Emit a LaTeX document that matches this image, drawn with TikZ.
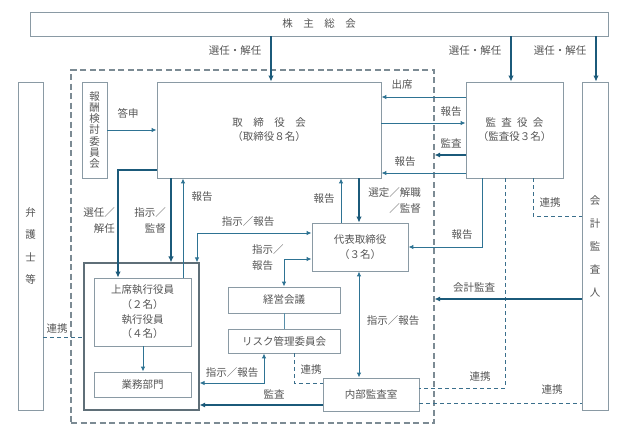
\documentclass[tikz,border=0pt]{standalone}
\usepackage{fontspec}
\setmainfont{Noto Sans CJK JP}
\usetikzlibrary{arrows.meta}
\definecolor{boxc}{HTML}{8A9AA4}
\definecolor{execc}{HTML}{5F6F78}
\definecolor{linec}{HTML}{2E7393}
\definecolor{thickc}{HTML}{1B5A7A}
\definecolor{dashc}{HTML}{3A6F8C}
\definecolor{txtc}{HTML}{555555}
\begin{document}
\begin{tikzpicture}[x=1pt,y=-1pt,
  box/.style={draw=boxc, line width=0.8pt, fill=white, text=txtc, inner sep=0pt, font=\fontsize{10.5}{12.5}\selectfont, align=center},
  lbl/.style={text=txtc, font=\fontsize{10.5}{12}\selectfont, inner sep=0pt},
  thinarr/.style={draw=linec, line width=1pt, -{Latex[length=5pt,width=4.5pt]}},
  dblarr/.style={draw=linec, line width=1pt, {Latex[length=5pt,width=4.5pt]}-{Latex[length=5pt,width=4.5pt]}},
  thkarr/.style={draw=thickc, line width=2pt, -{Latex[length=6pt,width=5.5pt]}},
  medarr/.style={draw=thickc, line width=1.4pt, -{Latex[length=5.5pt,width=5pt]}},
  lnk/.style={draw=dashc, line width=1pt, dash pattern=on 4pt off 3pt},
  plain/.style={draw=linec!80, line width=1pt}
]
\useasboundingbox (0,0) rectangle (624,429);
% dashed board region
\node[draw=boxc!90!black, line width=1.1pt, dash pattern=on 6pt off 3.5pt, minimum width=363pt, minimum height=353pt, inner sep=0pt] (board) at (252.5,246.5) {};
% boxes
\node[box, minimum width=578pt, minimum height=24pt] (kabu) at (319,24) {株\hspace{1em}主\hspace{1em}総\hspace{1em}会};
\node[box, minimum width=25pt, minimum height=328pt, font=\fontsize{10.5}{22.5}\selectfont] (ben) at (30.5,246) {弁\\護\\士\\等};
\node[box, minimum width=25pt, minimum height=96pt, font=\fontsize{10.5}{11.3}\selectfont] (hoshu) at (94.5,130) {報\\酬\\検\\討\\委\\員\\会};
\node[box, minimum width=224pt, minimum height=96pt, font=\fontsize{10.5}{14}\selectfont] (tori) at (269,130) {取\hspace{1em}締\hspace{1em}役\hspace{1em}会\\（取締役８名）};
\node[box, minimum width=97pt, minimum height=96pt, font=\fontsize{10.5}{14}\selectfont] (kansa) at (514.5,130) {監\hspace{0.5em}査\hspace{0.5em}役\hspace{0.5em}会\\（監査役３名）};
\node[box, minimum width=26pt, minimum height=328pt, font=\fontsize{10.5}{23}\selectfont] (kaikei) at (595,246) {会\\計\\監\\査\\人};
\node[box, minimum width=96pt, minimum height=48pt, font=\fontsize{10.5}{15}\selectfont] (daihyo) at (360,247) {代表取締役\\（３名）};
\node[box, draw=execc, line width=1.1pt, minimum width=115pt, minimum height=147pt] (exec) at (141.5,336.5) {};
\node[box, minimum width=97pt, minimum height=68pt, font=\fontsize{10.5}{14.7}\selectfont] (joseki) at (142.5,312) {上席執行役員\\（２名）\\執行役員\\（４名）};
\node[box, minimum width=97pt, minimum height=25pt] (gyomu) at (142.5,384.5) {業務部門};
\node[box, minimum width=112pt, minimum height=26pt] (keiei) at (284,300) {経営会議};
\node[box, minimum width=112pt, minimum height=24pt] (risk) at (284,341) {リスク管理委員会};
\node[box, minimum width=96pt, minimum height=33pt] (naibu) at (371,394.5) {内部監査室};
% helper coordinates
\coordinate (xa) at (271,0);
\coordinate (xb) at (511,0);
\coordinate (xc) at (596,0);
\coordinate (ya) at (0,97);
\coordinate (yb) at (0,123);
\coordinate (yc) at (0,155);
\coordinate (yd) at (0,173);
\coordinate (xd) at (482,0);
\coordinate (xe) at (505,0);
\coordinate (xf) at (533,0);
\coordinate (ye) at (0,216);
\coordinate (yf) at (0,299);
\coordinate (yg) at (0,388);
\coordinate (yh) at (0,403);
\coordinate (xg) at (341,0);
\coordinate (xh) at (359,0);
\coordinate (yi) at (0,233);
\coordinate (xi) at (197,0);
\coordinate (yj) at (0,259);
\coordinate (yk) at (0,383);
\coordinate (xj) at (264,0);
\coordinate (xk) at (294,0);
\coordinate (yl) at (0,405);
\coordinate (ym) at (0,170);
\coordinate (xl) at (118,0);
\coordinate (xm) at (171,0);
\coordinate (xn) at (183,0);
\coordinate (xo) at (143,0);
\coordinate (yn) at (0,337);
% top arrows
\draw[thkarr] (kabu.south -| xa) -- (tori.north -| xa);
\draw[thkarr] (kabu.south -| xb) -- (kansa.north -| xb);
\draw[thkarr] (kabu.south -| xc) -- (kaikei.north -| xc);
\node[lbl] (l1) at (235,51) {選任・解任};
\node[lbl] (l2) at (475,51) {選任・解任};
\node[lbl] (l3) at (560,51) {選任・解任};
% housyu
\draw[thinarr] (hoshu.east) -- (tori.west);
\node[lbl] (l4) at (128,113) {答申};
% between tori and kansa
\draw[thinarr] (kansa.west |- ya) -- (tori.east |- ya);
\node[lbl] (l5) at (402,85) {出席};
\draw[thinarr] (tori.east |- yb) -- (kansa.west |- yb);
\node[lbl] (l6) at (451,112) {報告};
\draw[medarr] (kansa.west |- yc) -- (board.east |- yc);
\node[lbl] (l7) at (451,143) {監査};
\draw[thinarr] (kansa.west |- yd) -- (tori.east |- yd);
\node[lbl] (l8) at (405,162) {報告};
% from kansa down
\draw[thinarr] (kansa.south -| xd) -- (xd |- daihyo.east) -- (daihyo.east);
\node[lbl] (l9) at (462,235) {報告};
\draw[lnk] (kansa.south -| xe) -- (xe |- yg) -- (naibu.east |- yg);
\node[lbl] (l10) at (480,377) {連携};
\draw[lnk] (kansa.south -| xf) -- (xf |- ye) -- (kaikei.west |- ye);
\node[lbl] (l11) at (550,203) {連携};
\draw[medarr] (kaikei.west |- yf) -- (board.east |- yf);
\node[lbl] (l12) at (474,288) {会計監査};
\draw[lnk] (naibu.east |- yh) -- (kaikei.west |- yh);
\node[lbl] (l13) at (552,390) {連携};
% tori <-> daihyo
\draw[thinarr] (daihyo.north -| xg) -- (tori.south -| xg);
\node[lbl] (l14) at (324,199) {報告};
\draw[thkarr] (tori.south -| xh) -- (daihyo.north -| xh);
\node[lbl, anchor=east] (l15) at (421,193) {選定／解職};
\node[lbl, anchor=east] (l16) at (421,209) {／監督};
% daihyo left
\draw[dblarr] (daihyo.west |- yi) -- (xi |- yi) -- (exec.north -| xi);
\node[lbl] (l17) at (248,222) {指示／報告};
\draw[dblarr] (daihyo.west |- yj) -- (keiei.north |- yj) -- (keiei.north);
\node[lbl, anchor=west] (l18) at (252,250) {指示／};
\node[lbl, anchor=west] (l19) at (252,266) {報告};
\draw[plain] (keiei.south) -- (risk.north);
\draw[dblarr] (risk.south -| xj) -- (xj |- yk) -- (exec.east |- yk);
\node[lbl] (l20) at (232,373) {指示／報告};
\draw[lnk] (risk.south -| xk) -- (xk |- yk) -- (naibu.west |- yk);
\node[lbl] (l21) at (311,370) {連携};
\draw[medarr] (naibu.west |- yl) -- (exec.east |- yl);
\node[lbl] (l22) at (274,394) {監査};
\draw[dblarr] (daihyo.south -| xh) -- (naibu.north -| xh);
\node[lbl] (l23) at (393,321) {指示／報告};
% tori -> exec
\draw[thkarr] (tori.west |- ym) -- (xl |- ym) -- (joseki.north -| xl);
\node[lbl, anchor=east] (l24) at (115,213) {選任／};
\node[lbl, anchor=east] (l25) at (115,229) {解任};
\draw[thkarr] (tori.south -| xm) -- (exec.north -| xm);
\node[lbl, anchor=east] (l26) at (166,213) {指示／};
\node[lbl, anchor=east] (l27) at (166,229) {監督};
\draw[thinarr] (joseki.north -| xn) -- (tori.south -| xn);
\node[lbl] (l28) at (202,197) {報告};
\draw[thinarr] (joseki.south -| xo) -- (gyomu.north -| xo);
\draw[lnk] (ben.east |- yn) -- (exec.west |- yn);
\node[lbl] (l29) at (57,329) {連携};
\end{tikzpicture}
\end{document}
